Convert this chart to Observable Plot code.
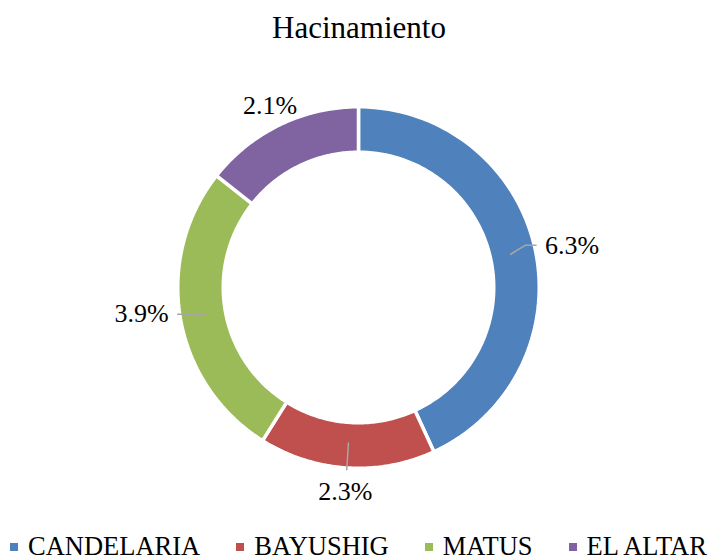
<!DOCTYPE html>
<html>
<head>
<meta charset="utf-8">
<script src="https://cdn.jsdelivr.net/npm/d3@7"></script>
<script src="https://cdn.jsdelivr.net/npm/@observablehq/plot@0.6"></script>
<style>
  html, body { margin: 0; padding: 0; background: #fff; overflow: hidden; }
  body { width: 718px; height: 558px; position: relative; font-family: "Liberation Serif", Tinos, "Times New Roman", Times, serif; }
  #title { position: absolute; left: 0; top: 11px; width: 718px; text-align: center; font-size: 31px; line-height: 34px; color: #000; }
  #chart { position: absolute; left: 0; top: 60px; }
  #legend { position: absolute; left: 10px; top: 531px; display: flex; font-size: 26.5px; line-height: 30px; color: #000; white-space: nowrap; }
  .item { display: flex; align-items: center; margin-right: 36px; }
  .item:last-child { margin-right: 0; }
  .sw { width: 8px; height: 8px; margin-right: 10px; margin-top: 2px; }
</style>
</head>
<body>
<div id="title">Hacinamiento</div>
<div id="chart"></div>
<div id="legend"></div>
<script>
const categories = ["CANDELARIA", "BAYUSHIG", "MATUS", "EL ALTAR"];
const values = [6.3, 2.3, 3.9, 2.1];
const labels = ["6.3%", "2.3%", "3.9%", "2.1%"];
const colors = ["#4F81BD", "#C0504D", "#9BBB59", "#8064A2"];
const showLeader = [true, true, true, false];

const W = 718, H = 470;
const PX = 179;            // pixels per unit radius
const CX = 358, CY = 227;  // center within svg
const gapW = 3.5;
const rOuter = 1 + (gapW / 2) / PX;
const rInner = (137 - gapW / 2) / PX;

const arcs = d3.pie().sort(null).value(d => d)(values);

// ring polygons
const ringPts = [];
arcs.forEach((a, i) => {
  const n = 80;
  for (let k = 0; k <= n; k++) {
    const t = a.startAngle + (a.endAngle - a.startAngle) * k / n;
    ringPts.push({name: categories[i], x: rOuter * Math.sin(t), y: rOuter * Math.cos(t)});
  }
  for (let k = n; k >= 0; k--) {
    const t = a.startAngle + (a.endAngle - a.startAngle) * k / n;
    ringPts.push({name: categories[i], x: rInner * Math.sin(t), y: rInner * Math.cos(t)});
  }
});

// labels and leaders
const leaderPts = [];
const textPts = [];
arcs.forEach((a, i) => {
  const th = (a.startAngle + a.endAngle) / 2;
  const s = Math.sin(th), c = Math.cos(th);
  const pt = r => ({x: r * s, y: r * c});
  const side = Math.abs(s) > 0.5;
  const sg = Math.sign(s);
  let line = [pt(0.87)];
  let tp;
  if (side) {
    const yl = pt(1.0).y + 4 / PX;
    const x1 = sg * Math.sqrt(Math.max(0, 0.96 * 0.96 - yl * yl));
    const p1 = {x: x1, y: yl};
    const p2 = {x: x1 + sg * 11 / PX, y: yl};
    line.push(p1, p2);
    tp = {x: p2.x + sg * 9 / PX, y: yl, anchor: sg > 0 ? "start" : "end"};
  } else {
    const base = showLeader[i] ? 1.06 : 1.0;
    if (showLeader[i]) line.push(pt(1.02));
    const r = base + (13 * Math.abs(c) + 27 * Math.abs(s)) / PX;
    tp = {...pt(r), anchor: "middle"};
  }
  if (showLeader[i]) line.forEach(p => leaderPts.push({name: categories[i], ...p}));
  textPts.push({label: labels[i], ...tp});
});

const fontFamily = "'Liberation Serif', Tinos, 'Times New Roman', Times, serif";
const textMark = anchor => Plot.text(textPts.filter(d => d.anchor === anchor), {
  x: "x", y: "y", text: "label", textAnchor: anchor, lineAnchor: "middle",
  fontSize: 26, fontFamily, fill: "#000"
});

const plot = Plot.plot({
  width: W, height: H,
  marginTop: 0, marginRight: 0, marginBottom: 0, marginLeft: 0,
  x: {domain: [-CX / PX, (W - CX) / PX], range: [0, W], axis: null},
  y: {domain: [-(H - CY) / PX, CY / PX], range: [H, 0], axis: null},
  color: {domain: categories, range: colors},
  style: {fontFamily, background: "white", overflow: "visible"},
  marks: [
    Plot.line(ringPts, {x: "x", y: "y", z: "name", fill: "name", stroke: "white", strokeWidth: gapW, curve: "linear-closed", strokeLinejoin: "miter"}),
    Plot.line(leaderPts, {x: "x", y: "y", z: "name", stroke: "#A6A6A6", strokeWidth: 1.5, curve: "linear"}),
    textMark("start"), textMark("end"), textMark("middle")
  ]
});
document.getElementById("chart").appendChild(plot);

const leg = d3.select("#legend");
categories.forEach((c, i) => {
  const it = leg.append("div").attr("class", "item");
  it.append("div").attr("class", "sw").style("background", colors[i]);
  it.append("span").text(c);
});
</script>
</body>
</html>
